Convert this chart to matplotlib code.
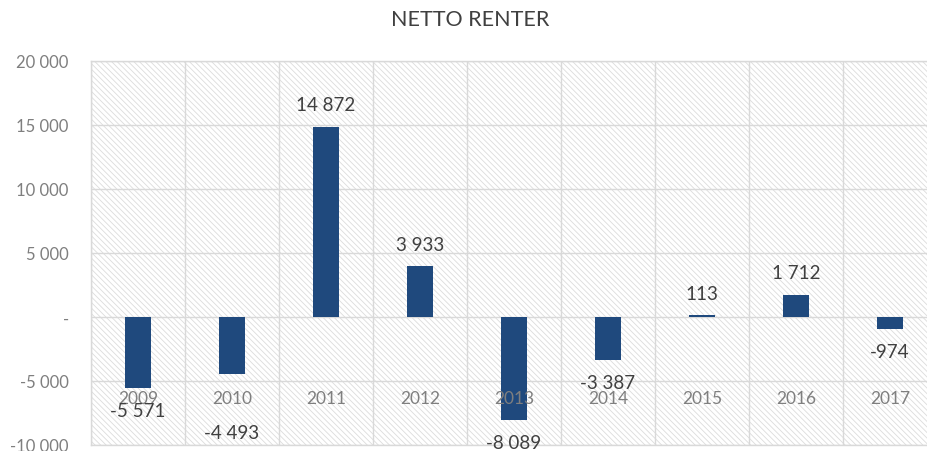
import matplotlib
matplotlib.use("Agg")
import matplotlib.pyplot as plt
from matplotlib.patches import Rectangle
from matplotlib.ticker import FuncFormatter, FixedLocator

years = ["2009", "2010", "2011", "2012", "2013", "2014", "2015", "2016", "2017"]
values = [-5571, -4493, 14872, 3933, -8089, -3387, 113, 1712, -974]
yticks = [-10000, -5000, 0, 5000, 10000, 15000, 20000]
title = "NETTO RENTER"
# extra label shift (pixels) where the original chart moved a label
label_extra = {"2010": 36}

plt.rcParams['font.family'] = ['Lato', 'DejaVu Sans']
plt.rcParams['hatch.linewidth'] = 0.6

def fmt(v):
    if v == 0:
        return "-"
    s = f"{abs(int(v)):,}".replace(",", " ")
    return ("-" if v < 0 else "") + s

fig = plt.figure(figsize=(9.28, 4.52), dpi=100)
ax = fig.add_axes([91/928, (452-445.7)/452, 846/928, (445.7-62)/452])

grid_c = '#d9d9d9'
ax.add_patch(Rectangle((0, 0), 1, 1, transform=ax.transAxes, facecolor='white',
                       edgecolor='#dcdcdc', hatch='\\' * 6, linewidth=0, zorder=0))

x = list(range(len(years)))
bars = ax.bar(x, values, width=0.28, color='#1f497d', zorder=3)
for xi, v, yr in zip(x, values, years):
    off = 22 + label_extra.get(yr, 0)
    ax.annotate(fmt(v), (xi, v), xytext=(0, off if v >= 0 else -off),
                textcoords='offset pixels', ha='center', va='center',
                fontsize=13.5, color='#404040', zorder=6)

ax.set_xlim(-0.5, len(years) - 0.5)
ax.set_ylim(-10000, 20000)
ax.set_yticks(yticks)
ax.yaxis.set_major_formatter(FuncFormatter(lambda v, p: fmt(v)))
ax.tick_params(axis='y', length=0, pad=16, labelsize=12, labelcolor='#7f7f7f')

ax.xaxis.set_major_locator(FixedLocator([i - 0.5 for i in range(len(years) + 1)]))
ax.xaxis.set_ticklabels([])
ax.tick_params(axis='x', length=0)
ax.grid(True, color=grid_c, linewidth=1, zorder=1)
ax.set_axisbelow(True)
for s in ax.spines.values():
    s.set_color(grid_c)
    s.set_linewidth(1)

sec = ax.secondary_xaxis(1/6)
sec.set_xticks(x)
sec.set_xticklabels(years)
sec.tick_params(length=0, pad=7, labelsize=12.5, labelcolor='#7f7f7f')
sec.spines['bottom'].set_visible(False)
sec.set_zorder(5)

fig.text(470/928, 1 - 20/452, title, ha='center', va='center', fontsize=15.5, color='#404040')

fig.savefig("out.png", dpi=100)
